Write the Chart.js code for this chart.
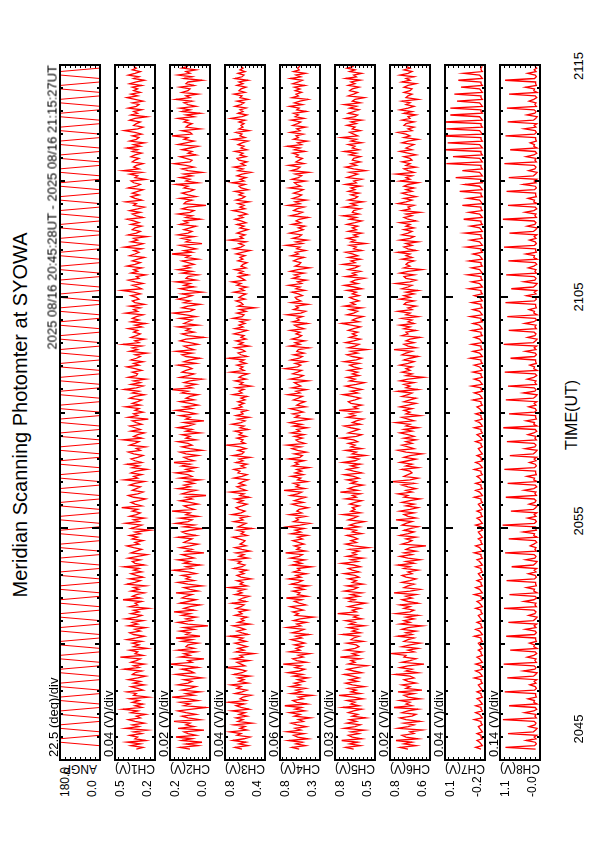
<!DOCTYPE html>
<html>
<head>
<meta charset="utf-8">
<script src="https://cdn.jsdelivr.net/npm/chart.js@4.4.1/dist/chart.umd.min.js"></script>
<style>
  html, body { margin: 0; padding: 0; background: #fff; }
  #page { position: relative; width: 595px; height: 842px; overflow: hidden; background: #fff; }
  #page canvas { position: absolute; }
  .lbl { position: absolute; line-height: 1; white-space: nowrap; transform-origin: 0 0; color: #000;
         font-family: "Liberation Sans", Arial, Helvetica, sans-serif; }
</style>
</head>
<body>
<div id="page"></div>
<script>
// panels, from left (top panel of the original plot) to right
const channels = ["ANGP", "CH1(V)", "CH2(V)", "CH3(V)", "CH4(V)", "CH5(V)", "CH6(V)", "CH7(V)", "CH8(V)"];
const topValues = [180, 0.5, 0.2, 0.8, 0.8, 0.8, 0.8, 0.1, 1.1];
const bottomValues = [0, 0.2, 0.0, 0.4, 0.3, 0.5, 0.6, -0.2, 0.0];
const topLabels = ["180.0", "0.5", "0.2", "0.8", "0.8", "0.8", "0.8", "0.1", "1.1"];
const bottomLabels = ["0.0", "0.2", "0.0", "0.4", "0.3", "0.5", "0.6", "-0.2", "-0.0"];
const divSteps = [22.5, 0.04, 0.02, 0.04, 0.06, 0.03, 0.02, 0.04, 0.14];
const divLabels = ["22.5 (deg)/div", "0.04 (V)/div", "0.02 (V)/div", "0.04 (V)/div", "0.06 (V)/div",
                   "0.03 (V)/div", "0.02 (V)/div", "0.04 (V)/div", "0.14 (V)/div"];

// time axis, minutes after 20:45 UT
const timeLabels = ["2045", "2055", "2105", "2115"];
const T_START = 0.467;      // 20:45:28
const SAMPLE = 0.075;       // sample spacing (minutes)

// scan angle (deg)
const angp = [
  0,0,0,90,180,180,180,90,0,0,0,90,180,180,180,90, 0,0,0,90,180,180,180,90,0,0,0,90,180,180,180,90,
  0,0,0,90,180,180,180,90,0,0,0,90,180,180,180,90, 0,0,0,90,180,180,180,90,0,0,0,90,180,180,180,90,
  0,0,0,90,180,180,180,90,0,0,0,90,180,180,180,90, 0,0,0,90,180,180,180,90,0,0,0,90,180,180,180,90,
  0,0,0,90,180,180,180,90,0,0,0,90,180,180,180,90, 0,0,0,90,180,180,180,90,0,0,0,90,180,180,180,90,
  0,0,0,90,180,180,180,90,0,0,0,90,180,180,180,90, 0,0,0,90,180,180,180,90,0,0,0,90,180,180,180,90,
  0,0,0,90,180,180,180,90,0,0,0,90,180,180,180,90, 0,0,0,90,180,180,180,90,0,0,0,90,180,180,180,90,
  0,0,0,90,180,180,180,90,0,0,0,90,180,180,180,90, 0,0,0,90,180,180,180,90,0,0,0,90,180,180,180,90,
  0,0,0,90,180,180,180,90,0,0,0,90,180,180,180,90, 0,0,0,90,180,180,180,90,0,0,0,90,180,180,180,90,
  0,0,0,90,180,180,180,90,0,0,0,90,180,180,180,90, 0,0,0,90,180,180,180,90,0,0,0,90,180,180,180,90,
  0,0,0,90,180,180,180,90,0,0,0,90,180,180,180,90, 0,0,0,90,180,180,180,90,0,0,0,90,180,180,180,90,
  0,0,0,90,180,180,180,90,0,0,0,90,180,180,180,90, 0,0,0,90,180,180,180,90,0,0,0,90,180,180,180,90,
  0,0,0,90,180,180,180,90,0,0,0,90,180,180,180,90, 0,0,0,90,180,180,180,90,0,0,0,90,180,180,180,90,
  0,0,0,90,180,180,180,90,0,0
];

// channel readings in units of 0.01 V
const UNIT = 0.01;
const ch1 = [
  34,29,38,31,41,27,35,33,39,30,36,26,42,32,37,28,35,40,31,34,
  27,38,33,44,30,35,29,37,32,39,25,36,34,41,29,33,38,28,36,31,
  40,33,27,37,35,30,43,32,36,28,38,34,31,46,29,35,33,39,26,36,
  32,37,30,41,34,28,36,39,31,35,27,40,33,37,29,42,34,30,38,32,
  36,25,39,33,35,30,44,31,37,34,28,38,32,36,27,41,35,31,39,29,
  34,38,30,36,32,43,28,35,37,31,40,33,26,38,34,30,36,41,32,35,
  29,37,33,39,31,35,24,38,34,30,42,32,36,28,39,34,31,37,33,45,
  30,35,38,32,27,36,40,33,29,37,34,31,39,35,28,43,33,36,30,38,
  34,26,37,32,41,30,35,38,33,29,36,40,31,34,27,39,35,32,44,30,
  36,33,28,38,31,35,39,30,34,37,25,40,33,36,29,35,32,42,31,37,
  33,30,39,35,28,37,32,43,34,29,38,31,36,27,40,34,33,37,30,35,
  41,32,36,29,38,34,31,35,26,39,33,37,30,44,32,35,28,38,34,31,
  36,33,40,30,35,27,38,32,37,34,29,42,33,36,31,39,28,35,37,32,
  34,38,31,36,45,30,33,37,29,35,40,32,34,27,38,33,36,30,41,35,
  31,37,33,28,39,35,32,36,30,43,34,29,38,33,36,26,40,34,31,37,
  35,30,38,32,36,41,29,34,37,31,39,33,28,36,34,42,30,35,38,32,
  37,33,29,40,34,31,36,38,27,35,33,39,30,44,32,36,34,29,37,35,
  32,38,35,30,37,33,41,31,36,28,39,34,32,37,30,35,43,33,29,36,
  34,31,39,35,26,38,33,36,30,40,34,32,37,29,35,41,33,38,31,36,
  33,37,30,39,34,28,36,32,40,35,31,37,34,36
];
const ch2 = [
  10,15,6,12,4,14,9,17,7,11,13,3,16,8,12,10,18,5,11,14,
  7,12,16,9,2,13,10,15,6,11,19,8,12,5,14,10,7,16,11,9,
  13,4,11,17,8,10,14,6,12,20,9,11,3,15,10,13,7,16,8,12,
  11,6,14,9,17,5,12,10,15,8,13,1,11,16,9,12,7,14,10,18,
  8,13,10,5,15,11,7,14,12,9,17,6,10,13,4,11,16,8,12,10,
  14,7,11,18,9,12,5,13,10,16,8,11,14,3,12,9,15,10,6,13,
  11,9,16,7,12,14,10,4,13,8,17,11,9,15,6,12,10,19,8,11,
  13,6,10,15,9,12,2,14,11,7,16,10,13,8,12,5,15,9,11,17,
  9,12,7,14,10,18,8,11,13,6,12,15,4,10,14,9,11,16,7,12,
  10,14,5,12,9,16,11,8,13,3,12,10,15,7,11,17,9,13,6,10,
  15,8,12,10,6,14,11,19,9,12,7,13,10,4,15,11,8,14,12,9,
  11,16,7,13,10,5,12,14,9,17,8,11,13,6,10,15,12,3,11,14,
  8,12,10,16,6,13,11,9,15,7,12,18,10,8,14,11,5,13,10,16,
  12,9,14,4,11,15,8,13,10,17,7,12,11,6,14,9,16,10,13,8,
  11,14,6,12,10,19,9,13,7,11,15,4,12,10,14,8,16,11,9,13,
  10,7,15,11,13,5,12,9,16,10,8,14,11,2,13,12,9,15,7,11,
  14,10,8,13,11,17,6,12,10,15,9,13,4,11,14,8,12,18,10,9,
  12,15,7,11,9,14,10,6,16,12,8,13,11,19,9,10,14,5,12,11,
  9,13,11,16,8,12,5,14,10,15,7,11,13,9,17,10,12,6,14,11,
  10,15,8,12,11,4,13,9,16,10,12,7,14,11
];
const ch3 = [
  63,70,57,66,59,72,61,55,68,64,75,58,65,60,71,53,67,62,69,58,
  66,60,73,56,64,69,61,77,59,65,62,54,70,63,58,68,64,74,57,66,
  61,67,55,71,63,59,66,79,60,64,68,56,72,62,65,51,69,61,67,58,
  64,70,59,66,62,75,57,63,68,60,65,72,55,67,61,64,58,70,63,66,
  57,69,64,61,73,59,66,62,56,70,63,67,60,76,58,65,62,68,54,64,
  68,61,65,58,71,63,60,67,64,74,57,66,61,69,55,63,70,59,65,62,
  60,66,72,58,64,61,68,53,67,63,59,71,62,65,57,73,64,60,66,69,
  63,58,67,62,70,56,65,61,75,59,64,68,60,66,62,57,71,63,58,67,
  65,71,60,64,58,69,62,66,55,72,63,61,67,59,65,78,60,64,62,68,
  59,66,63,70,57,65,61,73,64,60,67,56,69,62,64,58,71,63,66,61,
  67,60,64,58,72,63,66,61,69,54,65,62,70,59,66,63,57,74,61,65,
  62,68,59,65,61,76,58,64,67,60,63,70,56,66,62,69,59,64,61,71,
  64,58,70,62,66,60,65,57,72,63,61,68,59,65,50,67,62,64,69,60,
  66,63,59,71,61,65,58,68,64,73,60,63,67,57,66,62,70,59,64,62,
  58,67,62,65,60,69,63,55,71,64,61,66,59,75,62,65,60,68,63,57,
  65,61,68,59,64,70,62,66,58,63,72,60,65,61,67,56,69,63,60,66,
  62,70,57,64,66,60,73,61,65,59,68,63,54,67,62,71,60,64,58,66,
  68,59,65,62,70,58,64,61,67,63,57,72,60,65,63,69,56,66,62,64,
  61,66,60,74,63,58,67,62,65,59,70,64,61,68,57,65,63,71,60,66,
  64,59,68,62,66,57,70,63,61,67,60,65,62,64
];
const ch4 = [
  56,65,48,60,52,69,45,58,63,50,71,54,61,47,59,66,51,57,42,62,
  55,68,49,61,53,74,46,59,64,51,57,40,66,53,60,48,67,55,62,50,
  58,45,63,52,70,56,49,61,54,76,47,59,64,51,57,43,68,55,60,52,
  62,49,57,66,53,60,44,65,56,50,71,54,59,47,63,55,38,61,57,64,
  51,59,67,48,56,62,53,72,46,58,55,64,50,60,45,66,57,52,69,54,
  60,47,63,55,58,41,65,53,61,49,67,56,52,73,48,59,55,62,50,57,
  64,52,58,46,66,54,61,50,70,55,43,63,57,60,48,68,53,59,56,45,
  57,65,51,62,55,48,67,58,53,75,49,60,56,63,46,58,54,66,51,61,
  53,59,44,64,57,61,50,69,55,52,62,47,58,65,54,71,49,57,60,52,
  62,50,66,55,59,46,63,53,68,57,42,61,56,64,51,58,67,48,59,55,
  49,63,57,52,70,55,60,47,65,54,58,62,45,67,56,51,64,58,53,74,
  58,54,61,48,66,56,52,63,50,59,57,44,68,55,61,49,65,57,53,60,
  55,67,50,58,62,46,64,56,59,52,71,54,48,63,57,60,45,66,54,59,
  61,52,57,65,49,60,55,69,53,58,47,64,56,62,50,67,58,43,61,56,
  54,63,58,50,66,57,61,48,59,55,72,52,60,46,64,56,53,68,58,51,
  57,49,65,54,60,56,45,67,58,52,63,59,50,70,55,61,47,64,57,53,
  63,56,51,68,54,59,62,48,65,57,53,61,44,66,58,55,69,50,60,56,
  52,60,57,64,49,62,55,71,53,58,46,63,57,60,51,67,55,59,48,64,
  58,54,66,50,61,57,63,47,59,56,68,52,62,55,45,65,57,60,53,61,
  55,62,49,64,57,52,67,54,60,48,63,56,58,55
];
const ch5 = [
  66,72,61,69,63,75,60,67,70,62,68,58,73,65,61,71,64,69,57,67,
  63,70,66,60,74,62,68,65,71,59,66,77,61,68,64,70,58,67,72,63,
  69,62,67,73,60,66,71,64,56,70,65,68,61,76,63,67,60,72,65,62,
  64,71,59,68,66,62,74,61,67,63,70,58,69,65,72,60,66,63,78,64,
  67,61,70,64,57,69,65,72,62,68,60,73,66,63,71,59,67,64,70,62,
  65,73,62,67,70,61,66,75,63,68,59,71,64,67,62,69,55,66,72,64,
  68,63,66,71,60,67,64,73,62,69,65,58,70,66,63,74,61,68,65,67,
  62,69,65,60,72,64,67,61,76,63,70,66,59,68,64,71,62,66,73,60,
  66,71,63,68,61,74,65,62,69,57,67,64,72,60,68,65,70,63,66,75,
  64,60,70,66,62,68,73,61,67,64,59,71,65,69,62,77,63,66,60,68,
  70,65,61,67,74,63,68,60,66,72,64,58,69,65,71,62,67,63,70,61,
  66,69,62,73,64,60,67,71,63,68,56,70,65,62,72,66,61,69,64,67,
  63,70,66,61,68,75,62,67,64,59,71,66,63,69,60,73,65,68,62,66,
  69,62,67,64,71,60,66,73,63,68,65,58,72,64,67,61,70,65,62,74,
  65,68,61,70,63,67,72,60,66,64,69,57,68,65,71,63,66,60,70,64,
  67,63,71,65,60,69,64,74,62,67,66,61,73,64,68,59,70,65,63,68,
  62,70,65,68,61,72,64,66,60,71,67,63,69,57,66,72,64,68,61,67,
  66,61,69,64,73,62,67,65,70,60,68,64,75,63,66,69,61,67,65,71,
  64,68,60,72,65,63,70,66,62,69,64,73,61,67,65,58,70,66,63,69,
  67,62,70,65,68,61,72,64,66,60,69,65,71,66
];
const ch6 = [
  71,75,67,73,69,77,66,72,74,68,70,64,76,71,68,73,65,72,75,69,
  67,74,71,66,78,69,72,70,75,65,71,73,68,76,64,72,70,74,67,71,
  73,68,70,77,66,72,69,75,71,63,74,70,67,73,72,79,68,71,66,74,
  70,65,73,71,68,76,69,72,67,74,71,64,75,70,73,68,72,66,77,70,
  68,73,70,75,66,71,74,69,72,67,78,70,65,73,71,68,74,70,67,72,
  74,69,71,66,73,70,76,68,72,65,71,75,69,73,67,72,70,62,74,71,
  69,72,67,75,71,68,73,70,66,74,72,69,77,67,71,73,68,75,70,66,
  72,68,74,70,65,73,71,76,69,72,67,71,74,68,79,70,66,73,71,69,
  70,74,66,72,69,75,71,67,73,70,64,72,76,68,71,74,69,72,67,73,
  68,71,75,69,73,66,72,70,77,68,71,74,65,72,70,73,69,75,71,67,
  73,70,67,74,71,69,76,66,72,70,73,68,75,71,63,72,69,74,70,72,
  69,75,71,68,73,70,66,74,72,69,78,67,71,73,68,72,70,65,74,71,
  72,67,73,70,75,68,71,69,74,66,72,70,76,69,71,67,73,72,68,75,
  70,73,68,72,66,74,71,69,77,70,67,72,73,68,75,71,64,73,70,72,
  71,68,74,69,72,70,76,67,71,73,69,72,66,75,70,68,74,71,69,73,
  68,72,70,75,67,71,73,69,72,65,74,70,71,68,76,72,69,73,67,71,
  74,69,72,68,73,71,66,75,70,72,69,77,68,71,73,67,72,70,74,69,
  70,73,67,71,75,69,72,70,68,74,71,66,73,70,72,76,69,71,68,73,
  72,68,74,70,71,67,73,69,75,71,68,72,70,74,66,72,71,69,73,70,
  69,73,71,67,74,70,72,68,75,71,69,73,70,72
];
const ch7 = [
  -17,-13,-18,-17,-16,-14,-18,-17,-17,-14,-18,-17,-16,-15,-18,-17,
  -17,-12,-18,-17,-16,-13,-18,-17,-17,-13,-18,-17,-16,-14,-18,-17,
  -17,-14,-18,-17,-16,-15,-18,-17,-17,-12,-18,-17,-16,-13,-18,-17,
  -17,-13,-18,-17,-16,-14,-18,-17,-17,-15,-18,-17,-16,-15,-18,-17,
  -17,-12,-18,-17,-16,-13,-18,-17,-17,-14,-18,-17,-16,-15,-18,-17,
  -17,-13,-18,-17,-16,-14,-18,-17,-17,-12,-18,-17,-16,-13,-18,-17,
  -17,-14,-18,-17,-16,-15,-18,-17,-17,-13,-18,-17,-16,-14,-18,-17,
  -17,-12,-18,-17,-16,-13,-18,-17,-17,-15,-18,-17,-16,-15,-18,-17,
  -17,-13,-18,-17,-16,-14,-18,-17,-17,-14,-18,-17,-16,-15,-18,-17,
  -17,-12,-18,-17,-16,-13,-18,-17,-17,-13,-18,-17,-16,-14,-18,-17,
  -17,-12,-18,-17,-16,-13,-18,-17,-17,-14,-18,-17,-16,-15,-18,-17,
  -17,-13,-18,-17,-16,-14,-18,-17,-17,-12,-18,-17,-16,-13,-18,-17,
  -17,-13,-18,-17,-16,-14,-18,-17,-17,-11,-18,-17,-16,-12,-18,-17,
  -17,-10,-18,-17,-16,-12,-18,-17,-17,-11,-18,-17,-16,-12,-18,-17,
  -17,-9,-18,-17,-16,-11,-18,-17,-17,-10,-18,-17,-16,-12,-18,-17,
  -17,-10,-18,-17,-16,-11,-18,-17,-17,-9,-18,-17,-16,-11,-18,-17,
  -17,-10,-18,-17,-16,-12,-18,-17,-17,-8,-18,-17,-16,-10,-18,-17,
  -17,-7,-18,-17,-16,-10,-18,-17,-17,-8,-18,-17,-16,-11,-18,-17,
  -17,-6,-18,-17,-16,-9,-18,-17,-17,-5,-18,-17,-16,-9,-18,-17,
  -17,-4,-18,-17,-16,-8,-18,-17,-17,-3,-18,-17,-16,-7,-18,-17,
  -17,-1,-18,-17,-16,-5,-18,-17,-17,2,-18,-17,-16,-3,-18,-17,
  -17,9,-18,-17,-16,4,-18,-17,-17,13,-18,-17,-16,8,-18,-17,
  -17,14,-18,-17,-16,9,-18,-17,-17,11,-18,-17,-16,6,-18,-17,
  -17,6,-18,-17,-16,1,-18,-17,-17,3,-18,-17,-16,-2,-18,-17,
  -17,0,-18,-17,-16,-4,-18,-17,-17,-18
];
const ch8 = [
  12,95,15,10,13,38,11,16,9,88,18,12,8,30,14,11,
  16,102,10,14,11,42,17,9,13,85,8,17,15,33,10,12,
  12,97,15,10,13,28,11,16,9,90,18,12,8,45,14,11,
  16,100,10,14,11,35,17,9,13,82,8,17,15,29,10,12,
  12,93,15,10,13,40,11,16,9,87,18,12,8,31,14,11,
  16,99,10,14,11,44,17,9,13,84,8,17,15,37,10,12,
  12,92,15,10,13,32,11,16,9,78,18,12,8,39,14,11,
  16,96,10,14,11,27,17,9,13,86,8,17,15,46,10,12,
  12,103,15,10,13,34,11,16,9,80,18,12,8,30,14,11,
  16,94,10,14,11,43,17,9,13,89,8,17,15,36,10,12,
  12,98,15,10,13,29,11,16,9,83,18,12,8,41,14,11,
  16,91,10,14,11,33,17,9,13,101,8,17,15,38,10,12,
  12,85,15,10,13,31,11,16,9,94,18,12,8,45,14,11,
  16,88,10,14,11,35,17,9,13,97,8,17,15,28,10,12,
  12,81,15,10,13,40,11,16,9,100,18,12,8,34,14,11,
  16,86,10,14,11,42,17,9,13,90,8,17,15,30,10,12,
  12,95,15,10,13,37,11,16,9,79,18,12,8,44,14,11,
  16,93,10,14,11,32,17,9,13,87,8,17,15,39,10,12,
  12,99,15,10,13,29,11,16,9,84,18,12,8,35,14,11,
  16,102,10,14,11,41,17,9,13,88,8,17,15,33,10,12,
  12,92,15,10,13,46,11,16,9,86,18,12,8,31,14,11,
  16,98,10,14,11,38,17,9,13,82,8,17,15,27,10,12,
  12,95,15,10,13,43,11,16,9,89,18,12,8,36,14,11,
  16,91,10,14,11,30,17,9,13,85,8,17,15,40,10,12,
  12,96,15,10,13,34,11,16,9,14
];
const series = [angp, ch1, ch2, ch3, ch4, ch5, ch6, ch7, ch8];
const units = [1, UNIT, UNIT, UNIT, UNIT, UNIT, UNIT, UNIT, UNIT];

// page layout
const PANEL_LEFT = 60, PANEL_PITCH = 55, PANEL_W = 40, PANEL_TOP = 65, PANEL_H = 695;
const TIME_LABEL_Y = [729, 521, 297, 66];
const page = document.getElementById("page");

function addLabel(text, x, y, size, mode) {
  const d = document.createElement("div");
  d.className = "lbl";
  d.textContent = text;
  d.style.left = x + "px";
  d.style.top = y + "px";
  d.style.fontSize = size + "px";
  const tf = {
    upStart: "rotate(-90deg) translate(0,-50%)",
    upEnd: "rotate(-90deg) translate(-100%,-50%)",
    upCenter: "rotate(-90deg) translate(-50%,-50%)",
    flip: "rotate(180deg) translate(-50%,-50%)"
  };
  d.style.transform = tf[mode];
  page.appendChild(d);
}

// frame, time ticks and div ticks of each panel
const panelFrame = {
  id: "panelFrame",
  afterDraw(chart, args, opts) {
    const { ctx, chartArea: a, scales: { x, y } } = chart;
    ctx.save();
    ctx.strokeStyle = "#000";
    ctx.lineWidth = 2;
    for (let m = 0; m <= 30; m++) {
      const yy = Math.round(y.getPixelForValue(m));
      const len = m % 10 === 0 ? 8 : (m % 5 === 0 ? 5 : 3);
      ctx.beginPath();
      ctx.moveTo(a.left, yy); ctx.lineTo(a.left + len, yy);
      ctx.moveTo(a.right, yy); ctx.lineTo(a.right - len, yy);
      ctx.stroke();
    }
    ctx.lineWidth = 1;
    for (let v = x.min; v <= x.max + 1e-9; v += opts.step) {
      const xx = Math.round(x.getPixelForValue(v)) + 0.5;
      ctx.beginPath();
      ctx.moveTo(xx, a.top); ctx.lineTo(xx, a.top + 3);
      ctx.moveTo(xx, a.bottom); ctx.lineTo(xx, a.bottom - 3);
      ctx.stroke();
    }
    ctx.lineWidth = 2;
    ctx.strokeRect(a.left, a.top, a.width, a.height);
    ctx.restore();
  }
};
Chart.register(panelFrame);

series.forEach((vals, p) => {
  const left = PANEL_LEFT + p * PANEL_PITCH;
  const cv = document.createElement("canvas");
  cv.width = PANEL_W + 4;
  cv.height = PANEL_H + 4;
  cv.style.left = (left - 2) + "px";
  cv.style.top = (PANEL_TOP - 2) + "px";
  page.appendChild(cv);

  const pts = vals.map((v, i) => ({ x: v * units[p], y: T_START + i * SAMPLE }));

  new Chart(cv.getContext("2d"), {
    type: "scatter",
    data: {
      datasets: [{
        data: pts,
        showLine: true,
        borderColor: "#ff0000",
        borderWidth: p === 0 ? 1 : 1.3,
        pointRadius: 0,
        tension: 0
      }]
    },
    options: {
      responsive: false,
      animation: false,
      devicePixelRatio: 1,
      events: [],
      layout: { padding: 2 },
      plugins: {
        legend: { display: false },
        tooltip: { enabled: false },
        panelFrame: { step: divSteps[p] }
      },
      scales: {
        x: { type: "linear", reverse: true, min: bottomValues[p], max: topValues[p], display: false },
        y: { type: "linear", min: 0, max: 30, display: false }
      }
    }
  });

  // labels around the panel
  addLabel(channels[p], left + PANEL_W / 2, 769, 12, "flip");
  addLabel(topLabels[p], left + 5, 797, 12, "upStart");
  addLabel(bottomLabels[p], left + 32, 797, 12, "upStart");
  addLabel(divLabels[p], left - 7, 757, 13, "upStart");
});

// header and titles
addLabel("2025 08/16 20:45:28UT - 2025 08/16 21:15:27UT", 52, 65, 13, "upEnd");
addLabel("Meridian Scanning Photomter at SYOWA", 20, 415, 20, "upCenter");
addLabel("TIME(UT)", 572, 415, 16, "upCenter");
timeLabels.forEach((txt, k) => addLabel(txt, 578, TIME_LABEL_Y[k], 13, "upCenter"));
</script>
</body>
</html>
